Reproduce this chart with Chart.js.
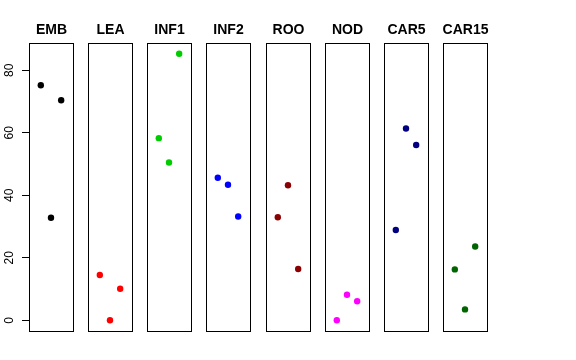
<!DOCTYPE html>
<html>
<head>
<meta charset="utf-8">
<script src="https://cdn.jsdelivr.net/npm/chart.js@4/dist/chart.umd.min.js"></script>
<style>
  body { margin: 0; background: #fff; }
  #wrap { position: relative; width: 576px; height: 360px; overflow: hidden; }
  #wrap canvas { position: absolute; top: 0; }
</style>
</head>
<body>
<div id="wrap"></div>
<script>
// dados
const panelNames = ['EMB', 'LEA', 'INF1', 'INF2', 'ROO', 'NOD', 'CAR5', 'CAR15'];
const panelColors = ['#000000', '#FF0000', '#00CD00', '#0000FF', '#8B0000', '#FF00FF', '#000080', '#006400'];
const xIndex = [1, 2, 3];
const embValues = [75.2, 32.8, 70.4];
const leaValues = [14.5, 0.0, 10.1];
const inf1Values = [58.3, 50.5, 85.3];
const inf2Values = [45.6, 43.4, 33.2];
const rooValues = [33.0, 43.2, 16.4];
const nodValues = [0.0, 8.2, 6.1];
const car5Values = [28.9, 61.4, 56.1];
const car15Values = [16.3, 3.5, 23.6];
const yTicks = [0, 20, 40, 60, 80];

const panelValues = [embValues, leaValues, inf1Values, inf2Values, rooValues, nodValues, car5Values, car15Values];

const yMin = -3.42, yMax = 88.74;
const xMin = -0.16, xMax = 4.16;

// caixa + titulo + rotulos do eixo y
const panelPlugin = {
  id: 'panel',
  afterDraw(chart, args, opts) {
    const { ctx, chartArea: a } = chart;
    ctx.save();
    ctx.strokeStyle = '#000';
    ctx.lineWidth = 1;
    ctx.strokeRect(a.left + 0.5, a.top + 0.5, a.right - a.left, a.bottom - a.top);
    ctx.fillStyle = '#000';
    ctx.font = 'bold 14px "Liberation Sans", Arial, sans-serif';
    ctx.textAlign = 'center';
    ctx.textBaseline = 'alphabetic';
    ctx.fillText(opts.title, (a.left + a.right) / 2 + 0.5, 34);
    if (opts.axis) {
      const y = chart.scales.y;
      ctx.font = '12px "Liberation Sans", Arial, sans-serif';
      y.ticks.forEach(t => {
        const py = y.getPixelForValue(t.value);
        ctx.save();
        ctx.translate(13, py);
        ctx.rotate(-Math.PI / 2);
        ctx.textAlign = 'center';
        ctx.fillText(String(t.value), 0, 0);
        ctx.restore();
      });
    }
    ctx.restore();
  }
};

const wrap = document.getElementById('wrap');

panelNames.forEach((name, i) => {
  const boxLeft = Math.round(28.7 + i * 59.24);
  const boxWidth = 44;
  const first = i === 0;
  const canvasLeft = first ? 0 : boxLeft - 6;
  const canvasWidth = first ? boxLeft + boxWidth + 7 : boxWidth + 13;

  const canvas = document.createElement('canvas');
  canvas.width = canvasWidth;
  canvas.height = 360;
  canvas.style.left = canvasLeft + 'px';
  wrap.appendChild(canvas);

  const yScale = {
    type: 'linear',
    min: yMin,
    max: yMax,
    display: first,
    afterBuildTicks: s => { s.ticks = yTicks.map(v => ({ value: v })); },
    ticks: { display: false },
    border: { display: false },
    grid: { drawOnChartArea: false, drawTicks: true, tickLength: 7, color: '#000', lineWidth: 1 }
  };
  if (first) yScale.afterFit = s => { s.width = boxLeft; };

  new Chart(canvas, {
    type: 'scatter',
    data: {
      datasets: [{
        data: panelValues[i].map((v, k) => ({ x: xIndex[k], y: v })),
        backgroundColor: panelColors[i],
        borderWidth: 0,
        pointRadius: 3.2,
        pointHoverRadius: 3.2
      }]
    },
    options: {
      responsive: false,
      animation: false,
      events: [],
      layout: {
        padding: { left: first ? 0 : 6, right: 7, top: 43, bottom: 29 }
      },
      scales: {
        x: { type: 'linear', min: xMin, max: xMax, display: false },
        y: yScale
      },
      plugins: {
        legend: { display: false },
        tooltip: { enabled: false },
        panel: { title: name, axis: first }
      }
    },
    plugins: [panelPlugin]
  });
});
</script>
</body>
</html>
